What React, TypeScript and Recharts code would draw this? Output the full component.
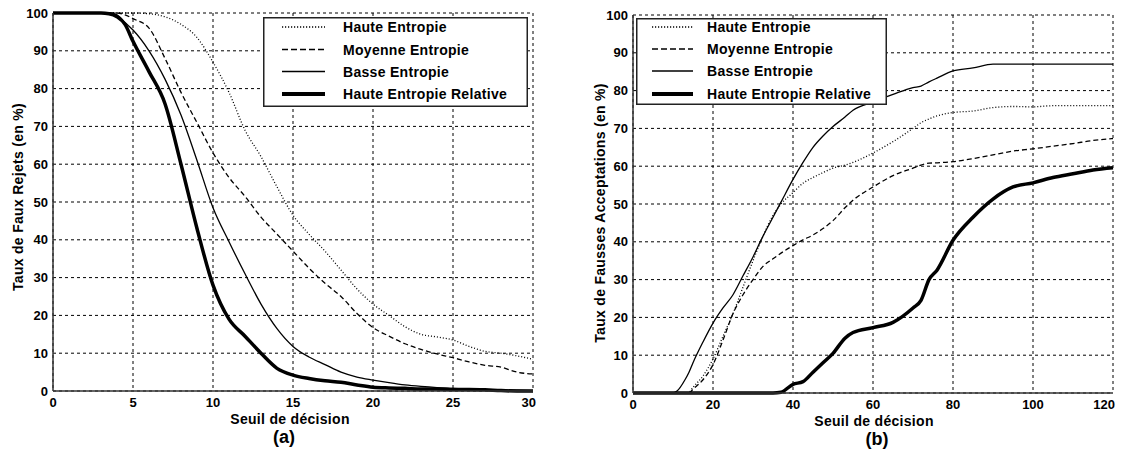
import React from "react";
import { LineChart, Line, XAxis, YAxis, CartesianGrid, Legend } from "recharts";

const FONT = '"Liberation Sans", Arial, Helvetica, sans-serif';

// (a) Taux de Faux Rejets, seuil 0..30
const seuilA = [0, 1, 2, 3, 3.5, 4, 4.5, 5, 6, 7, 8, 9, 10, 11, 12, 13, 14, 15, 16, 17, 18, 19, 20, 21, 22, 23, 24, 25, 26, 27, 28, 29, 30];
const hauteA = [100, 100, 100, 100, 100, 100, 100, 100, 99.8, 99, 97, 93.5, 87, 79, 69, 62, 54, 46.5, 41.5, 37, 32, 27, 23, 20, 17, 15, 14.3, 13.5, 11.8, 10.5, 10, 9.3, 8.4];
const moyenneA = [100, 100, 100, 100, 100, 100, 99.5, 98.5, 96, 88, 79, 71, 63, 56.5, 51.5, 46, 41.5, 37, 32.5, 28.5, 25, 20.5, 16.8, 14.5, 12.5, 11, 9.8, 8.8, 7.7, 6.8, 6.3, 5, 4.5];
const basseA = [100, 100, 100, 100, 100, 99.5, 97.5, 95.5, 90, 82.5, 73, 61, 48.5, 39.5, 31, 23, 16.5, 11.8, 9, 7, 5, 3.7, 2.9, 2.2, 1.6, 1.2, 0.9, 0.7, 0.5, 0.4, 0.3, 0.2, 0.1];
const relativeA = [100, 100, 100, 100, 99.8, 99, 97, 92.5, 84.5, 76, 60, 43, 28, 19, 14.5, 10, 6, 4.2, 3.3, 2.7, 2.3, 1.6, 1, 0.8, 0.7, 0.5, 0.5, 0.4, 0.4, 0.3, 0.1, 0, 0];
const ticksXA = [0, 5, 10, 15, 20, 25, 30];

// (b) Taux de Fausses Acceptations, seuil 0..120
const seuilB = [0, 5, 10, 11, 13, 14, 15, 17.5, 20, 22.5, 25, 27.5, 30, 32.5, 35, 37, 40, 42.5, 45, 47.5, 50, 53, 55, 60, 65, 70, 72, 74, 76, 80, 85, 90, 95, 100, 105, 110, 115, 120];
const hauteB = [0, 0, 0, 0, 0, 0.2, 1.5, 4.5, 9, 15, 21, 28, 35, 41.5, 47, 50, 53, 55.5, 57, 58.3, 59.5, 60.3, 61, 63.5, 66.5, 70, 71.5, 72.5, 73.3, 74.2, 74.6, 75.5, 75.8, 75.7, 76, 76, 76, 76];
const moyenneB = [0, 0, 0, 0, 0, 0, 1, 3.5, 7.5, 14, 21, 26, 30, 33.5, 35.5, 37, 39, 40.5, 41.8, 43.5, 45.6, 49, 51, 54.5, 57.5, 59.5, 60.3, 60.8, 60.9, 61.2, 62, 63, 64, 64.6, 65.3, 66, 66.8, 67.3];
const basseB = [0, 0, 0, 0.5, 3.5, 5.5, 8, 13.5, 18.5, 22.5, 26, 31, 36, 41.5, 46.5, 50.5, 56.5, 61, 65, 68, 70.5, 73, 74.8, 77, 79, 80.8, 81.2, 82.3, 83.3, 85.2, 86, 87, 87, 87, 87, 87, 87, 87];
const relativeB = [0, 0, 0, 0, 0, 0, 0, 0, 0, 0, 0, 0, 0, 0, 0, 0.2, 2.3, 3, 5.5, 8, 10.5, 14.5, 16, 17.3, 18.7, 22.5, 24.5, 30, 32.5, 40.4, 46.5, 51.3, 54.5, 55.6, 57, 58, 59, 59.6];
const ticksXB = [0, 20, 40, 60, 80, 100, 120];

const ticksY = [0, 10, 20, 30, 40, 50, 60, 70, 80, 90, 100];

const SERIES = [
  { key: "haute", name: "Haute Entropie", width: 1.3, dash: "1 2" },
  { key: "moyenne", name: "Moyenne Entropie", width: 1.3, dash: "5 3" },
  { key: "basse", name: "Basse Entropie", width: 1.3, dash: undefined },
  { key: "relative", name: "Haute Entropie Relative", width: 3.5, dash: undefined },
];

const dataA = seuilA.map((x, i) => ({
  x,
  haute: hauteA[i],
  moyenne: moyenneA[i],
  basse: basseA[i],
  relative: relativeA[i],
}));

const dataB = seuilB.map((x, i) => ({
  x,
  haute: hauteB[i],
  moyenne: moyenneB[i],
  basse: basseB[i],
  relative: relativeB[i],
}));

const tickStyle = { fill: "#000", fontSize: 13, fontWeight: "bold", fontFamily: FONT };
const textProps = { fontFamily: FONT, fontWeight: "bold", fontSize: 14, letterSpacing: 0.3, fill: "#000" };

// last x tick is pulled inside the frame, like the original
function XTick(props: any) {
  const { x, y, payload, xMax, lastShift } = props;
  const last = payload.value === xMax;
  return (
    <text x={last ? x + lastShift : x} y={y} dy="0.71em" textAnchor={last ? "end" : "middle"} {...tickStyle}>
      {payload.value}
    </text>
  );
}

function XCaption(props: any) {
  const vb = props.viewBox || { x: 0, y: 0, width: 0 };
  const cx = vb.x + vb.width / 2;
  return (
    <g>
      <text x={cx + props.titleDx} y={vb.y + 28} textAnchor="middle" dominantBaseline="central" {...textProps}>
        {props.title}
      </text>
      <text x={cx + props.tagDx} y={vb.y + 46} textAnchor="middle" dominantBaseline="central" {...textProps} fontSize={18} letterSpacing={0}>
        {props.tag}
      </text>
    </g>
  );
}

function YCaption(props: any) {
  const vb = props.viewBox || { x: 0, y: 0, height: 0 };
  const x = vb.x + props.dx;
  const y = vb.y + vb.height / 2 + props.dy;
  return (
    <text x={x} y={y} transform={`rotate(-90 ${x} ${y})`} textAnchor="middle" dominantBaseline="central" {...textProps}>
      {props.title}
    </text>
  );
}

function LegendBox({ w, h, rows, x1, x2, tx }: any) {
  return (
    <svg width={w} height={h} style={{ display: "block" }}>
      <rect x={0.75} y={0.75} width={w - 1.5} height={h - 1.5} fill="#fff" stroke="#222" strokeWidth={1.5} />
      {SERIES.map((s, i) => (
        <g key={s.key}>
          <line
            x1={x1}
            x2={x2}
            y1={rows[i]}
            y2={rows[i]}
            stroke="#000"
            strokeWidth={s.key === "relative" ? 4 : 1.5}
            strokeDasharray={s.key === "haute" ? "1.2 1.8" : s.key === "moyenne" ? "6 3" : undefined}
          />
          <text x={tx} y={rows[i]} dominantBaseline="central" {...textProps}>
            {s.name}
          </text>
        </g>
      ))}
    </svg>
  );
}

function Panel(p: any) {
  return (
    <LineChart width={p.width} height={451} data={p.data} margin={p.margin}>
      <CartesianGrid stroke="#000" strokeDasharray="3 3" />
      <XAxis
        type="number"
        dataKey="x"
        domain={[0, p.xMax]}
        ticks={p.xTicks}
        interval={0}
        height={20}
        tickSize={0}
        tickMargin={7}
        tickLine={false}
        stroke="#333"
        strokeWidth={1.5}
        tick={<XTick xMax={p.xMax} lastShift={p.lastShift} />}
        label={<XCaption title="Seuil de décision" tag={p.tag} titleDx={p.titleDx} tagDx={p.tagDx} />}
      />
      <YAxis
        type="number"
        domain={[0, 100]}
        ticks={ticksY}
        interval={0}
        width={p.yWidth}
        tickSize={0}
        tickMargin={5}
        tickLine={false}
        stroke="#333"
        strokeWidth={1.5}
        tick={tickStyle}
        label={<YCaption title={p.yTitle} dx={p.yTitleDx} dy={p.yTitleDy} />}
      />
      <Legend
        layout="horizontal"
        verticalAlign="middle"
        align="center"
        wrapperStyle={{ left: p.legend.left, top: p.legend.top, width: p.legend.w, height: p.legend.h }}
        content={() => <LegendBox {...p.legend} />}
      />
      {SERIES.map((s) => (
        <Line
          key={s.key}
          type="monotone"
          dataKey={s.key}
          name={s.name}
          stroke="#000"
          strokeWidth={s.width}
          strokeDasharray={s.dash}
          dot={false}
          activeDot={false}
          isAnimationActive={false}
        />
      ))}
    </LineChart>
  );
}

export default function App() {
  return (
    <div style={{ position: "absolute", left: 0, top: 0, width: 1121, height: 451, background: "#fff" }}>
      <div style={{ position: "absolute", left: 0, top: 0 }}>
        <Panel
          width={560}
          data={dataA}
          xMax={30}
          xTicks={ticksXA}
          lastShift={3}
          tag="(a)"
          titleDx={-3}
          tagDx={-9}
          yWidth={53}
          yTitle="Taux de Faux Rejets (en %)"
          yTitleDx={18}
          yTitleDy={-5}
          margin={{ top: 13, right: 27, bottom: 40, left: 0 }}
          legend={{ left: 263, top: 17, w: 265, h: 90, rows: [10, 32.5, 54.5, 77], x1: 19, x2: 62, tx: 80 }}
        />
      </div>
      <div style={{ position: "absolute", left: 560, top: 0 }}>
        <Panel
          width={561}
          data={dataB}
          xMax={120}
          xTicks={ticksXB}
          lastShift={2}
          tag="(b)"
          titleDx={1}
          tagDx={4}
          yWidth={73}
          yTitle="Taux de Fausses Acceptations (en %)"
          yTitleDx={40}
          yTitleDy={9}
          margin={{ top: 15, right: 8, bottom: 38, left: 0 }}
          legend={{ left: 76, top: 18, w: 251, h: 87, rows: [9, 31, 53, 76], x1: 16, x2: 57, tx: 71 }}
        />
      </div>
    </div>
  );
}
